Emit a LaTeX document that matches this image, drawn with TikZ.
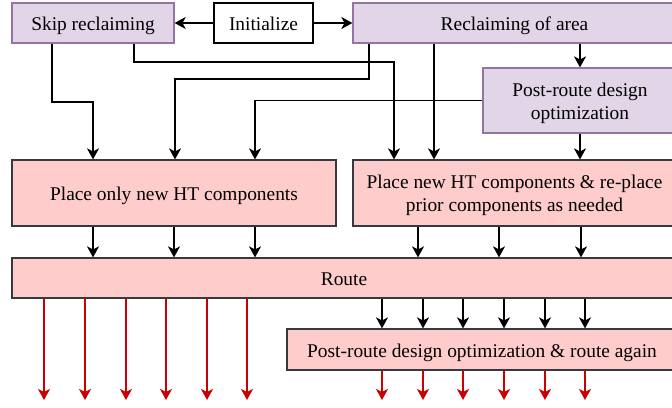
\documentclass[tikz,border=0pt]{standalone}
\usepackage{fontspec}
\setmainfont{Liberation Serif}
\usetikzlibrary{arrows.meta}
\definecolor{lilacfill}{HTML}{E1D5E7}
\definecolor{lilacline}{HTML}{9673A6}
\definecolor{rosefill}{HTML}{FFCCCC}
\definecolor{roseline}{HTML}{36393D}
\definecolor{outred}{HTML}{CC0000}
\newcommand{\toppad}{\rule{0pt}{18.3pt}}
\tikzset{
  box/.style={draw, line width=1.2pt, inner sep=0pt, align=center,
    font=\fontsize{19.4}{23}\selectfont, text height=19pt, text depth=4pt},
  twolines/.style={text height={}, text depth={}},
  lilacbox/.style={box, fill=lilacfill, draw=lilacline},
  rosebox/.style={box, fill=rosefill, draw=roseline},
  plainbox/.style={box, fill=white, draw=black},
  arr/.style={line width=1.3pt, -{Stealth[length=11pt,width=12pt,inset=3pt]}},
  redarr/.style={arr, draw=outred, line width=1.3pt},
}
\begin{document}
\begin{tikzpicture}[x=1pt,y=-1pt]
\useasboundingbox (0,0) rectangle (672,407);
\clip (0,0) rectangle (672,407);

% top row
\node[lilacbox, minimum width=162pt, minimum height=40pt] (skip) at (93,23) {Skip reclaiming};
\node[plainbox, minimum width=99pt, minimum height=40pt] (init) at (263.5,23) {Initialize};
\node[lilacbox, minimum width=323pt, minimum height=40pt] (recl) at (514.5,23) {Reclaiming of area};
\node[lilacbox, twolines, minimum width=194pt, minimum height=65pt] (post) at (580,100.5) {\toppad Post-route design\\optimization};

% placement
\node[rosebox, minimum width=324pt, minimum height=66pt] (place) at (174,193) {Place only new HT components};
\node[rosebox, twolines, minimum width=323pt, minimum height=66pt] (replace) at (514.5,193) {\toppad Place new HT components \& re-place\\prior components as needed};

% routing
\node[rosebox, minimum width=664pt, minimum height=40pt] (route) at (344,278) {Route};
\node[rosebox, minimum width=390pt, minimum height=41pt] (again) at (482,349.5) {Post-route design optimization \& route again};

% initialization choices
\draw[arr] (init.west) -- (skip.east);
\draw[arr] (init.east) -- (recl.west);

% feeds into placement
\draw[arr] (skip.south -| 52,0) -- (52,102) -- (93,102) -- (place.north -| 93,0);
\draw[arr] (skip.south -| 134,0) -- (134,62) -- (394,62) -- (replace.north -| 394,0);
\draw[arr] (recl.south -| 369,0) -- (369,79) -- (175,79) -- (place.north -| 175,0);
\draw[arr] (post.west) -- (255,100.5) -- (place.north -| 255,0);
\draw[arr] (recl.south -| 434,0) -- (replace.north -| 434,0);
\draw[arr] (recl.south -| 580,0) -- (post.north);
\draw[arr] (post.south) -- (replace.north -| 580,0);

% placement into routing
\foreach \x in {93,174,255} \draw[arr] (place.south -| \x,0) -- (route.north -| \x,0);
\foreach \x in {418,499,581} \draw[arr] (replace.south -| \x,0) -- (route.north -| \x,0);

% outputs of routing
\foreach \x in {44,85,126,166,207,247} {
  \coordinate (out) at (\x,400);
  \draw[redarr] (route.south -| \x,0) -- (out);
}
\foreach \x in {382,423,463,504,545,585} {
  \coordinate (fin) at (\x,400);
  \draw[arr] (route.south -| \x,0) -- (again.north -| \x,0);
  \draw[redarr] (again.south -| \x,0) -- (fin);
}
\end{tikzpicture}
\end{document}
